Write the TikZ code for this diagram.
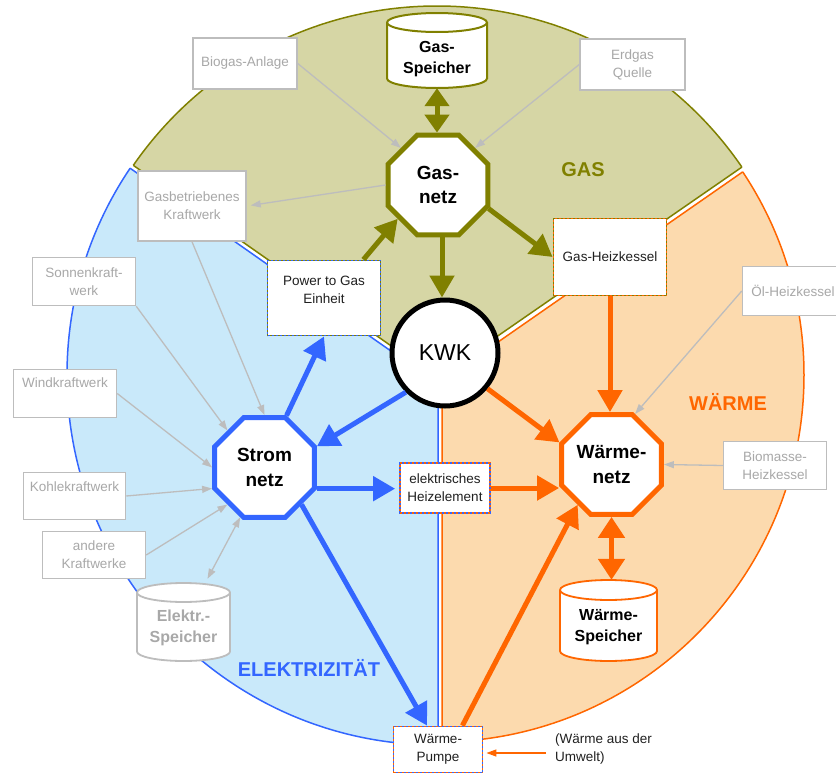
\documentclass[tikz,border=0pt]{standalone}
\usepackage{fontspec}
\setmainfont{Liberation Sans}
\usetikzlibrary{shapes.geometric,arrows.meta,calc}
\definecolor{gasfill}{HTML}{D6D6A5}
\definecolor{gasline}{HTML}{808000}
\definecolor{elfill}{HTML}{C9E9FA}
\definecolor{elline}{HTML}{3366FF}
\definecolor{wfill}{HTML}{FCDAAE}
\definecolor{wline}{HTML}{FF6600}
\definecolor{gline}{HTML}{BDBDBD}
\definecolor{gtext}{HTML}{A8A8A8}
\definecolor{dtext}{HTML}{202020}
\newcommand{\cylinderat}[6]{%
  \path[#1] (#2-#5,#3+#6) -- (#2-#5,#4-#6)
    arc[start angle=180,end angle=360,x radius=#5pt,y radius=#6pt]
    -- (#2+#5,#3+#6)
    arc[start angle=0,end angle=180,x radius=#5pt,y radius=#6pt] -- cycle;
  \path[#1,fill=none] (#2-#5,#3+#6)
    arc[start angle=180,end angle=360,x radius=#5pt,y radius=#6pt];
}
\begin{document}
\begin{tikzpicture}[x=1pt,y=-1pt,
  smalltxt/.style={font=\fontsize{13.5}{18}\selectfont},
  graybox/.style={rectangle,draw=gline,line width=1.5pt,fill=white,text=gtext,smalltxt,align=center,inner sep=0pt},
  colbox/.style 2 args={rectangle,draw=#1,line width=1.8pt,fill=white,text=dtext,smalltxt,align=center,inner sep=0pt,
    postaction={draw=#2,line width=1.8pt,dash pattern=on 2pt off 2pt}},
  toplbl/.style={smalltxt,align=center,anchor=north,inner sep=0pt},
  octa/.style={regular polygon,regular polygon sides=8,minimum size=108pt,inner sep=0pt,line width=5pt,fill=white,
    align=center,font=\bfseries\fontsize{19}{24.5}\selectfont,text=black},
  cyltxt/.style={align=center,inner sep=0pt,font=\bfseries\fontsize{16}{21}\selectfont},
  cylbox/.style={rectangle,inner sep=0pt},
  regionlbl/.style={font=\bfseries\fontsize{20}{24}\selectfont},
  garr/.style={-{Triangle[length=22pt,width=24pt]},line width=5pt,draw=gasline},
  garrtwo/.style={{Triangle[length=18pt,width=24pt]}-{Triangle[length=18pt,width=24pt]},line width=5pt,draw=gasline},
  barr/.style={-{Triangle[length=22pt,width=24pt]},line width=5pt,draw=elline},
  oarr/.style={-{Triangle[length=22pt,width=24pt]},line width=5pt,draw=wline},
  oarrtwo/.style={{Triangle[length=21pt,width=26pt]}-{Triangle[length=21pt,width=26pt]},line width=5pt,draw=wline},
  grayarr/.style={-{Triangle[length=10pt,width=7pt]},line width=1.3pt,draw=gline},
  grayarrtwo/.style={{Triangle[length=10pt,width=7pt]}-{Triangle[length=10pt,width=7pt]},line width=1.3pt,draw=gline},
  othin/.style={-{Triangle[length=10pt,width=7pt]},line width=1.3pt,draw=wline}
]
\useasboundingbox (0,0) rectangle (836,774);

% ---------- regions ----------
% gas
\begin{scope}
  \clip (437,375) circle[radius=369pt];
  \fill[gasfill] (0,72) -- (437,378) -- (836,102) -- (836,-10) -- (0,-10) -- cycle;
  \draw[gasline,line width=1.5pt] (0,72) -- (437,378) -- (836,102);
\end{scope}
\begin{scope}
  \clip (0,72) -- (437,378) -- (836,102) -- (836,-10) -- (0,-10) -- cycle;
  \draw[gasline,line width=1.5pt] (437,375) circle[radius=369pt];
\end{scope}
% electricity
\begin{scope}
  \clip (437,375) circle[radius=370pt];
  \fill[elfill] (0,77) -- (438,384) -- (438,800) -- (0,800) -- cycle;
  \draw[elline,line width=1.5pt] (0,77) -- (438,384) -- (438,800);
\end{scope}
\begin{scope}
  \clip (0,77) -- (438,384) -- (438,800) -- (0,800) -- cycle;
  \draw[elline,line width=1.5pt] (437,375) circle[radius=370pt];
\end{scope}
% heat
\begin{scope}
  \clip (437,375) circle[radius=367pt];
  \fill[wfill] (442,381) -- (836,107) -- (836,800) -- (442,800) -- cycle;
  \draw[wline,line width=1.5pt] (442,800) -- (442,381) -- (836,107);
\end{scope}
\begin{scope}
  \clip (442,381) -- (836,107) -- (836,800) -- (442,800) -- cycle;
  \draw[wline,line width=1.5pt] (437,375) circle[radius=367pt];
\end{scope}

% ---------- region labels ----------
\node[regionlbl,text=gasline] (lgas) at (583,170) {GAS};
\node[regionlbl,text=wline] (lwaerme) at (728,402) {WÄRME};
\node[regionlbl,text=elline] (lelek) at (309,668) {ELEKTRIZITÄT};

% ---------- cylinders ----------
\cylinderat{fill=white,draw=gasline,line width=2pt}{437}{13}{88}{50}{9.5}
\node[cylbox,minimum width=100pt,minimum height=75pt,
  label={[cyltxt,text=black,yshift=-9pt]center:Gas-\\Speicher}] (gsp) at (437,50.5) {};
\cylinderat{fill=white,draw=gline,line width=1.8pt}{183.5}{583}{661}{46.5}{9.5}
\node[cylbox,minimum width=93pt,minimum height=78pt,
  label={[cyltxt,text=gtext,yshift=-5.5pt]center:Elektr.-\\Speicher}] (esp) at (183.5,622) {};
\cylinderat{fill=white,draw=wline,line width=1.8pt}{608.5}{580}{661}{48.5}{10}
\node[cylbox,minimum width=97pt,minimum height=81pt,
  label={[cyltxt,text=black,yshift=-7pt]center:Wärme-\\Speicher}] (wsp) at (608.5,620.5) {};

% ---------- hubs ----------
\node[octa,draw=gasline] (gnetz) at (438,185) {Gas-\\netz};
\node[octa,draw=elline] (strom) at (264.5,467.5) {Strom\\netz};
\node[octa,draw=wline] (wnetz) at (611.5,464.5) {Wärme-\\netz};
\node[circle,draw=black,line width=5pt,fill=white,minimum size=106pt,inner sep=0pt,
  font=\fontsize{23}{27}\selectfont] (kwk) at (445,353) {KWK};

% ---------- gray boxes ----------
\node[graybox,minimum width=104pt,minimum height=51pt] (bio) at (245,63.5) {Biogas-Anlage};
\node[graybox,minimum width=105pt,minimum height=51pt] (erd) at (632.5,64.5) {Erdgas\\Quelle};
\node[graybox,minimum width=108pt,minimum height=70pt] (gkw) at (192,206) {Gasbetriebenes\\Kraftwerk};
\node[graybox,minimum width=103pt,minimum height=48pt] (sonne) at (84,281.5) {Sonnenkraft-\\werk};
\node[graybox,minimum width=103pt,minimum height=48pt,
  label={[toplbl,text=gtext,yshift=-9pt]north:Windkraftwerk}] (wind) at (65,393.5) {};
\node[graybox,minimum width=102pt,minimum height=47pt,
  label={[toplbl,text=gtext,yshift=-10pt]north:Kohlekraftwerk}] (kohle) at (74.5,496) {};
\node[graybox,minimum width=103pt,minimum height=47pt] (andere) at (94,555) {andere\\Kraftwerke};
\node[graybox,minimum width=101pt,minimum height=49pt] (oel) at (793,291) {Öl-Heizkessel};
\node[graybox,minimum width=103pt,minimum height=48pt] (biom) at (775,465.5) {Biomasse-\\Heizkessel};

% ---------- converter boxes ----------
\node[colbox={gasline}{elline},minimum width=113pt,minimum height=75pt,
  label={[toplbl,text=dtext,yshift=-16pt]north:Power to Gas\\Einheit}] (p2g) at (324,298) {};
\node[colbox={gasline}{wline},minimum width=113pt,minimum height=77pt] (gheiz) at (610,257) {Gas-Heizkessel};
\node[colbox={elline}{wline},minimum width=90pt,minimum height=50pt] (eheiz) at (445,488) {elektrisches\\Heizelement};
\node[colbox={elline}{wline},minimum width=89pt,minimum height=46pt] (pumpe) at (438,749.5) {Wärme-\\Pumpe};
\node[smalltxt,align=left,anchor=west,text=dtext,inner sep=0pt] (umw) at (555,749) {(Wärme aus der\\Umwelt)};

% ---------- gas arrows ----------
\draw[garrtwo] (gsp.south) -- (gsp.south |- gnetz.north);
\draw[garr] ([xshift=4pt]gnetz.south) -- ([xshift=4pt]gnetz.south |- kwk.north);
\draw[garr] (gnetz.-25) -- (gheiz.west);
\draw[garr] ([xshift=-18pt]p2g.north east) -- (gnetz.-140);

% ---------- gray arrows ----------
\draw[grayarr] (bio.east) -- (gnetz.135);
\draw[grayarr] (erd.west) -- (gnetz.45);
\draw[grayarr,shorten >=4pt] (gnetz.west) -- (gkw.east);
\draw[grayarr] (gkw.south) -- (strom.north);
\draw[grayarr] (sonne.south east) -- (strom.135);
\draw[grayarr] (wind.east) -- (strom.west);
\draw[grayarr] (kohle.east) -- ([yshift=-21pt]strom.west);
\draw[grayarr] (andere.east) -- (strom.-135);
\draw[grayarrtwo] ([xshift=24pt,yshift=4pt]esp.north) -- (strom.-116);
\draw[grayarr] (oel.west) -- (wnetz.65);
\draw[grayarr] (biom.west) -- (wnetz.east);

% ---------- electricity arrows ----------
\draw[barr] (strom.67.5) -- (p2g.south);
\draw[barr] (kwk.-135) -- (strom.22.5);
\draw[barr,shorten >=4pt] (strom.-22.5) -- (strom.-22.5 -| eheiz.west);
\draw[barr] (strom.-45) -- ([xshift=-11pt]pumpe.north);

% ---------- heat arrows ----------
\draw[oarr] (gheiz.south) -- (gheiz.south |- wnetz.north);
\draw[oarr] (kwk.-40) -- (wnetz.157.5);
\draw[oarr] (eheiz.east) -- (eheiz.east -| wnetz.west);
\draw[oarr] ([xshift=-21pt]pumpe.north east) -- (wnetz.-130);
\draw[oarrtwo] (wnetz.south) -- (wnetz.south |- wsp.north);
\coordinate (ustart) at ([xshift=-9pt,yshift=-4pt]umw.west);
\draw[othin,shorten >=3pt] (ustart) -- (ustart -| pumpe.east);
\end{tikzpicture}
\end{document}
